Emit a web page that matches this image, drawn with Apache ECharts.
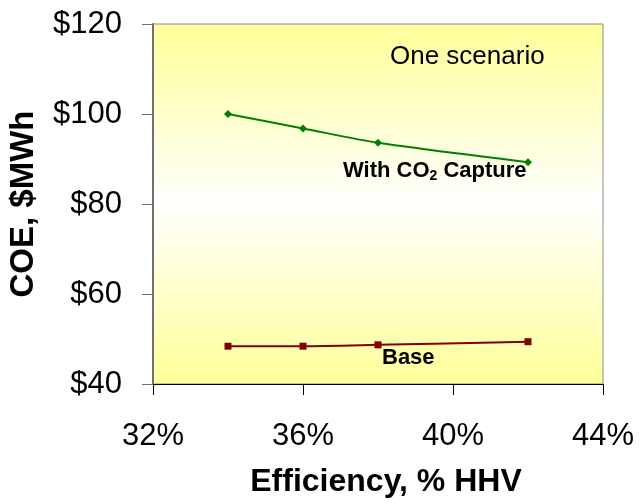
<!DOCTYPE html>
<html><head><meta charset="utf-8">
<script src="https://cdn.jsdelivr.net/npm/echarts@6/dist/echarts.min.js"></script>
<style>html,body{margin:0;padding:0;background:#fff}#c{width:639px;height:504px}</style>
</head><body><div id="c"></div>
<script>
const efficiency = [34, 36, 38, 42];
const withCapture = [100.0, 96.8, 93.6, 89.3];
const base = [48.4, 48.4, 48.7, 49.4];
const xTicks = [32, 36, 40, 44];
const yTicks = [40, 60, 80, 100, 120];

const FONT = '"Liberation Sans", Arial, sans-serif';
const chart = echarts.init(document.getElementById('c'));
chart.setOption({
  animation: false,
  grid: {
    left: 153, right: 36, top: 24, bottom: 120, show: true,
    containLabel: false, outerBoundsMode: 'none',
    borderColor: '#8c8c8c', borderWidth: 1,
    backgroundColor: {type: 'linear', x: 0, y: 0, x2: 0, y2: 1, colorStops: [
      {offset: 0, color: '#ffff99'}, {offset: 0.5, color: '#ffffff'}, {offset: 1, color: '#ffff99'}]}
  },
  xAxis: {
    type: 'value', min: xTicks[0], max: xTicks[xTicks.length - 1], interval: 4,
    name: 'Efficiency, % HHV', nameLocation: 'middle', nameGap: 82,
    nameTextStyle: {fontFamily: FONT, fontSize: 32, fontWeight: 'bold', color: '#000', padding: [0, 0, 0, 16]},
    axisLine: {lineStyle: {color: '#000', width: 1}},
    axisTick: {show: true, length: 11, lineStyle: {color: '#000'}},
    splitLine: {show: false},
    axisLabel: {fontFamily: FONT, fontSize: 31, color: '#000', margin: 37, formatter: v => v + '%'}
  },
  yAxis: {
    type: 'value', min: yTicks[0], max: yTicks[yTicks.length - 1], interval: 20,
    name: 'COE, $MWh', nameLocation: 'middle', nameGap: 113, nameRotate: 90,
    nameTextStyle: {fontFamily: FONT, fontSize: 33, fontWeight: 'bold', color: '#000'},
    axisLine: {show: true, lineStyle: {color: '#707070', width: 2}},
    axisTick: {show: true, length: 11, lineStyle: {color: '#707070'}},
    splitLine: {show: false},
    axisLabel: {fontFamily: FONT, fontSize: 31, color: '#000', margin: 31, formatter: v => '$' + v}
  },
  series: [
    {type: 'line', data: efficiency.map((x, i) => [x, withCapture[i]]), smooth: 0.25,
     symbol: 'diamond', symbolSize: 8, lineStyle: {color: '#008000', width: 2},
     itemStyle: {color: '#008000'}},
    {type: 'line', data: efficiency.map((x, i) => [x, base[i]]), smooth: 0.25,
     symbol: 'rect', symbolSize: 7, lineStyle: {color: '#800000', width: 2},
     itemStyle: {color: '#800000'}}
  ],
  graphic: [
    {type: 'text', left: 390, top: 44, style: {text: 'One scenario', fontFamily: FONT, fontSize: 26, fill: '#000'}},
    {type: 'text', left: 343, top: 160, style: {
      text: '{a|With CO}{b|2}{a| Capture}',
      rich: {a: {fontFamily: FONT, fontSize: 22, fontWeight: 'bold', fill: '#000', color: '#000'},
             b: {fontFamily: FONT, fontSize: 14, fontWeight: 'bold', fill: '#000', color: '#000', padding: [10, 0, 0, 0]}}}},
    {type: 'text', left: 382, top: 347, style: {text: 'Base', fontFamily: FONT, fontSize: 22, fontWeight: 'bold', fill: '#000'}}
  ]
});
</script></body></html>
